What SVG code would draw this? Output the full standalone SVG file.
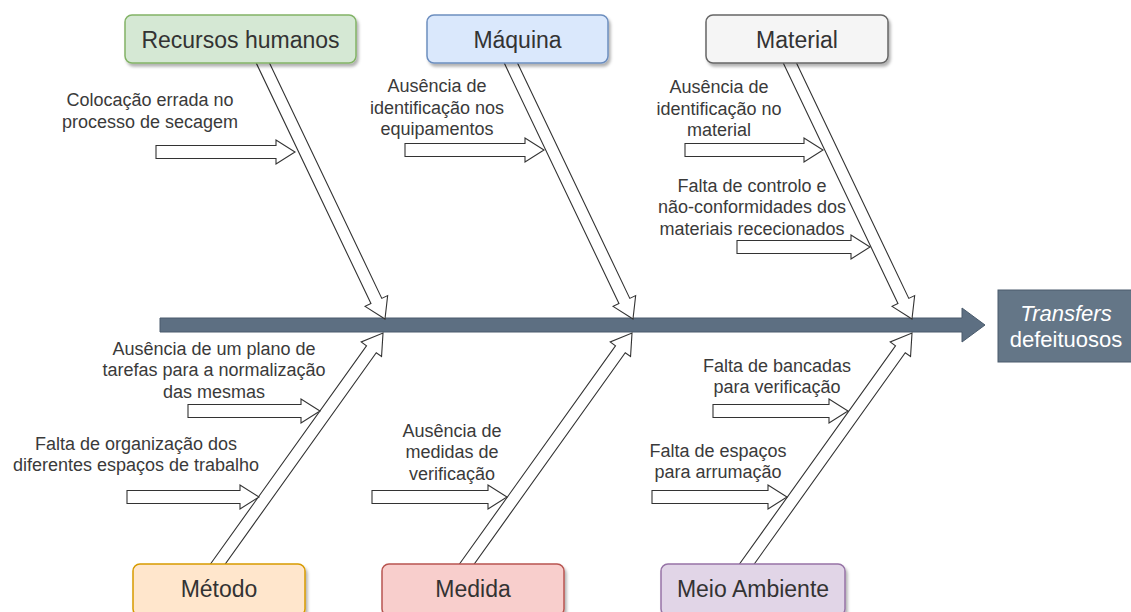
<svg xmlns="http://www.w3.org/2000/svg" width="1131" height="612" viewBox="0 0 1131 612">
<defs>
<style>
.fa{fill:#ffffff;stroke:#333333;stroke-width:1.1}
.box{stroke-width:1.5}
.lbl{font-family:"Liberation Sans",Arial,sans-serif;font-size:23px;fill:#333333;text-anchor:middle}
.cause{font-family:"Liberation Sans",Arial,sans-serif;font-size:18px;fill:#3a3a3a;text-anchor:middle}
.res{font-family:"Liberation Sans",Arial,sans-serif;font-size:22px;fill:#ffffff;text-anchor:middle}
</style>
<filter id="sh" x="-10%" y="-20%" width="130%" height="150%">
<feDropShadow dx="2" dy="3" stdDeviation="1.5" flood-color="#000" flood-opacity="0.3"/>
</filter>
</defs>
<rect width="1131" height="612" fill="#ffffff"/>

<g id="connectors">
<!-- spine -->
<path d="M160,318 H962 V308 L985,325 L962,342 V332 H160 Z" fill="#5d6f82" stroke="#4a5b6c" stroke-width="1"/>
<!-- top branches -->
<path class="fa" transform="translate(260,57) rotate(64.5)" d="M0,-6 H270.3 V-12.5 L290.3,0 L270.3,12.5 V6 H0 Z"/>
<path class="fa" transform="translate(508,57) rotate(64.5)" d="M0,-6 H270.3 V-12.5 L290.3,0 L270.3,12.5 V6 H0 Z"/>
<path class="fa" transform="translate(787,57) rotate(64.5)" d="M0,-6 H270.3 V-12.5 L290.3,0 L270.3,12.5 V6 H0 Z"/>
<!-- bottom branches -->
<path class="fa" transform="translate(210,575) rotate(-54.44)" d="M0,-6 H277.5 V-12.5 L297.5,0 L277.5,12.5 V6 H0 Z"/>
<path class="fa" transform="translate(459,575) rotate(-54.44)" d="M0,-6 H277.5 V-12.5 L297.5,0 L277.5,12.5 V6 H0 Z"/>
<path class="fa" transform="translate(739,575) rotate(-54.44)" d="M0,-6 H277.5 V-12.5 L297.5,0 L277.5,12.5 V6 H0 Z"/>
<!-- cause arrows -->
<path class="fa" d="M156,145.5 H276 V140 L295,152 L276,164 V158.5 H156 Z"/>
<path class="fa" d="M405,143.5 H525 V138 L544,150 L525,162 V156.5 H405 Z"/>
<path class="fa" d="M685,143.5 H804 V138 L823,150 L804,162 V156.5 H685 Z"/>
<path class="fa" d="M737,240.5 H851 V235 L870,247 L851,259 V253.5 H737 Z"/>
<path class="fa" d="M188,404.5 H301 V399 L320,411 L301,423 V417.5 H188 Z"/>
<path class="fa" d="M127,490.5 H240 V485 L259,497 L240,509 V503.5 H127 Z"/>
<path class="fa" d="M372,490.5 H488 V485 L507,497 L488,509 V503.5 H372 Z"/>
<path class="fa" d="M713,404.5 H829 V399 L848,411 L829,423 V417.5 H713 Z"/>
<path class="fa" d="M652,490.5 H768 V485 L787,497 L768,509 V503.5 H652 Z"/>
</g>

<g id="recursos-humanos">
<rect class="box" x="125" y="15" width="231" height="48" rx="7" fill="#d5e8d4" stroke="#82b366" filter="url(#sh)"/>
<text class="lbl" x="240.5" y="48">Recursos humanos</text>
</g>
<g id="maquina">
<rect class="box" x="427" y="15" width="181" height="48" rx="7" fill="#dae8fc" stroke="#6c8ebf" filter="url(#sh)"/>
<text class="lbl" x="517.5" y="48">Máquina</text>
</g>
<g id="material">
<rect class="box" x="706" y="15" width="182" height="48" rx="7" fill="#f5f5f5" stroke="#666666" filter="url(#sh)"/>
<text class="lbl" x="797" y="48">Material</text>
</g>
<g id="metodo">
<rect class="box" x="133" y="564" width="172" height="52" rx="7" fill="#ffe6cc" stroke="#d79b00" filter="url(#sh)"/>
<text class="lbl" x="219" y="597">Método</text>
</g>
<g id="medida">
<rect class="box" x="382" y="564" width="182" height="52" rx="7" fill="#f8cecc" stroke="#b85450" filter="url(#sh)"/>
<text class="lbl" x="473" y="597">Medida</text>
</g>
<g id="meio-ambiente">
<rect class="box" x="661" y="564" width="184" height="52" rx="7" fill="#e1d5e7" stroke="#9673a6" filter="url(#sh)"/>
<text class="lbl" x="753" y="597">Meio Ambiente</text>
</g>
<g id="resultado">
<rect x="998" y="290" width="140" height="72" fill="#647687" stroke="#4a5b6c" stroke-width="1"/>
<text class="res" x="1066" y="321" font-style="italic">Transfers</text>
<text class="res" x="1066" y="347">defeituosos</text>
</g>

<g id="causas">
<text class="cause" x="150" y="106">Colocação errada no</text>
<text class="cause" x="150" y="127.5">processo de secagem</text>

<text class="cause" x="437" y="92">Ausência de</text>
<text class="cause" x="437" y="113.5">identificação nos</text>
<text class="cause" x="437" y="135">equipamentos</text>

<text class="cause" x="719" y="93">Ausência de</text>
<text class="cause" x="719" y="114.5">identificação no</text>
<text class="cause" x="719" y="136">material</text>

<text class="cause" x="752" y="191.5">Falta de controlo e</text>
<text class="cause" x="752" y="213">não-conformidades dos</text>
<text class="cause" x="752" y="234.5">materiais rececionados</text>

<text class="cause" x="214" y="354.5">Ausência de um plano de</text>
<text class="cause" x="214" y="376">tarefas para a normalização</text>
<text class="cause" x="214" y="397.5">das mesmas</text>

<text class="cause" x="136" y="449.5">Falta de organização dos</text>
<text class="cause" x="136" y="471">diferentes espaços de trabalho</text>

<text class="cause" x="452" y="436.5">Ausência de</text>
<text class="cause" x="452" y="458">medidas de</text>
<text class="cause" x="452" y="479.5">verificação</text>

<text class="cause" x="777" y="371.5">Falta de bancadas</text>
<text class="cause" x="777" y="393">para verificação</text>

<text class="cause" x="718" y="456.5">Falta de espaços</text>
<text class="cause" x="718" y="478">para arrumação</text>
</g>
</svg>
